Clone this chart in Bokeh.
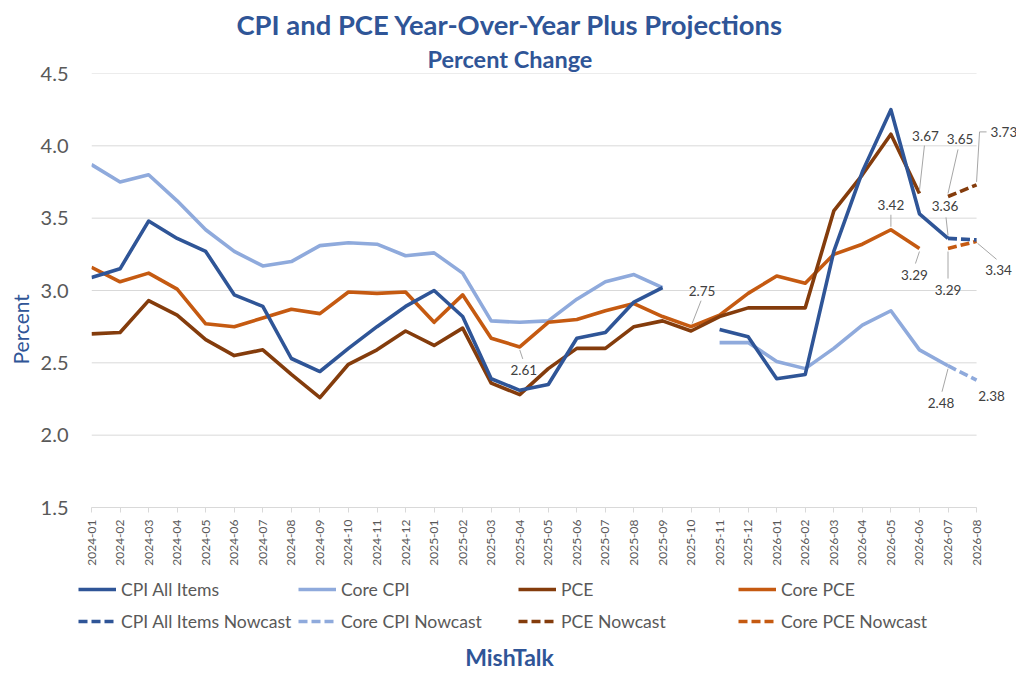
import math
from bokeh.plotting import figure
from bokeh.models import (Range1d, FixedTicker, Legend, LegendItem, Title,
                          NumeralTickFormatter, ColumnDataSource)
from bokeh.embed import file_html
from bokeh.resources import INLINE
from bokeh.core.properties import value

nan = float("nan")

months = ["2024-01", "2024-02", "2024-03", "2024-04", "2024-05", "2024-06",
          "2024-07", "2024-08", "2024-09", "2024-10", "2024-11", "2024-12",
          "2025-01", "2025-02", "2025-03", "2025-04", "2025-05", "2025-06",
          "2025-07", "2025-08", "2025-09", "2025-10", "2025-11", "2025-12",
          "2026-01", "2026-02", "2026-03", "2026-04", "2026-05", "2026-06",
          "2026-07", "2026-08"]

cpi_all = [3.09, 3.15, 3.48, 3.36, 3.27, 2.97, 2.89, 2.53, 2.44, 2.60, 2.75, 2.89,
           3.00, 2.82, 2.39, 2.31, 2.35, 2.67, 2.71, 2.92, 3.02, nan, 2.73, 2.68,
           2.39, 2.42, 3.27, 3.82, 4.25, 3.53, 3.36, nan]
core_cpi = [3.87, 3.75, 3.80, 3.62, 3.42, 3.27, 3.17, 3.20, 3.31, 3.33, 3.32, 3.24,
            3.26, 3.12, 2.79, 2.78, 2.79, 2.94, 3.06, 3.11, 3.02, nan, 2.64, 2.64,
            2.51, 2.46, 2.60, 2.76, 2.86, 2.59, 2.48, nan]
pce = [2.70, 2.71, 2.93, 2.83, 2.66, 2.55, 2.59, 2.42, 2.26, 2.49, 2.59, 2.72,
       2.62, 2.74, 2.36, 2.28, 2.46, 2.60, 2.60, 2.75, 2.79, 2.72, 2.82, 2.88,
       2.88, 2.88, 3.55, 3.80, 4.08, 3.67, nan, nan]
core_pce = [3.16, 3.06, 3.12, 3.01, 2.77, 2.75, 2.81, 2.87, 2.84, 2.99, 2.98, 2.99,
            2.78, 2.97, 2.67, 2.61, 2.78, 2.80, 2.86, 2.91, 2.82, 2.75, 2.83, 2.98,
            3.10, 3.05, 3.25, 3.32, 3.42, 3.29, nan, nan]

cpi_all_now = [nan] * 30 + [3.36, 3.35]
core_cpi_now = [nan] * 30 + [2.48, 2.38]
pce_now = [nan] * 30 + [3.65, 3.73]
core_pce_now = [nan] * 30 + [3.29, 3.34]

yticks = [1.5, 2.0, 2.5, 3.0, 3.5, 4.0, 4.5]

# styling
C_CPI = "#2F5597"
C_CCPI = "#8FAADC"
C_PCE = "#843C0C"
C_CPCE = "#C55A11"
C_TITLE = "#2F5597"
C_TXT = "#595959"
C_GRID = "#D9D9D9"
FONT = "Lato"

W = 1016
BL, BT, BB = 91, 73, 67
FW, FH = W - BL, 434
PX_X = 28.55
X_END = FW / PX_X
PX_Y = FH / 3.0

n = len(months)
xs = list(range(n))

p = figure(frame_width=FW, frame_height=FH, x_range=Range1d(0, X_END),
           y_range=Range1d(1.5, 4.5), output_backend="svg", toolbar_location=None,
           min_border_left=BL, min_border_right=0, min_border_top=BT,
           min_border_bottom=BB, title="CPI and PCE Year-Over-Year Plus Projections")
p.outline_line_color = None
p.grid.visible = False

p.title.text_font = FONT
p.title.text_font_size = "27.4px"
p.title.text_font_style = "bold"
p.title.text_color = C_TITLE
p.title.align = "left"
p.title.offset = 145
p.title.standoff = 3

sub = Title(text="Percent Change", text_font=FONT, text_font_size="23.5px",
            text_font_style="bold", text_color=C_TITLE, align="left", offset=336,
            standoff=1)
p.add_layout(sub, "above")

# gridlines
p.segment(x0=[0] * len(yticks), x1=[n - 1] * len(yticks), y0=yticks, y1=yticks,
          line_color=C_GRID, line_width=1)

# axes
p.xaxis.ticker = FixedTicker(ticks=xs)
p.xaxis.major_label_overrides = {i: m for i, m in enumerate(months)}
p.xaxis.major_label_orientation = math.pi / 2
p.xaxis.bounds = (0, n - 1)
p.xaxis.axis_line_color = C_GRID
p.xaxis.major_tick_line_color = C_GRID
p.xaxis.major_tick_out = 5
p.xaxis.major_tick_in = 0
p.xaxis.minor_tick_line_color = None
p.xaxis.major_label_standoff = 7
p.xaxis.major_label_text_font = FONT
p.xaxis.major_label_text_font_size = "12px"
p.xaxis.major_label_text_color = C_TXT

p.yaxis.ticker = FixedTicker(ticks=yticks)
p.yaxis.formatter = NumeralTickFormatter(format="0.0")
p.yaxis.axis_line_color = None
p.yaxis.major_tick_line_color = None
p.yaxis.minor_tick_line_color = None
p.yaxis.major_tick_out = 0
p.yaxis.major_tick_in = 0
p.yaxis.major_label_standoff = 23
p.yaxis.major_label_text_font = FONT
p.yaxis.major_label_text_font_size = "20px"
p.yaxis.major_label_text_color = C_TXT

ylab = Title(text="Percent", text_font=FONT, text_font_size="21px",
             text_font_style="normal", text_color=C_TITLE, align="left",
             offset=143, standoff=10)
p.add_layout(ylab, "left")

src = ColumnDataSource(dict(x=xs, cpi=cpi_all, ccpi=core_cpi, pce=pce, cpce=core_pce,
                            cpi_n=cpi_all_now, ccpi_n=core_cpi_now, pce_n=pce_now,
                            cpce_n=core_pce_now))
LW = 3.6
DASH = "9 4"
p.line("x", "ccpi", source=src, line_color=C_CCPI, line_width=LW, line_join="round")
p.line("x", "cpce", source=src, line_color=C_CPCE, line_width=LW, line_join="round")
p.line("x", "pce", source=src, line_color=C_PCE, line_width=LW, line_join="round")
p.line("x", "cpi", source=src, line_color=C_CPI, line_width=LW, line_join="round")
p.line("x", "ccpi_n", source=src, line_color=C_CCPI, line_width=LW, line_dash=DASH)
p.line("x", "cpce_n", source=src, line_color=C_CPCE, line_width=LW, line_dash=DASH)
p.line("x", "pce_n", source=src, line_color=C_PCE, line_width=LW, line_dash=DASH)
p.line("x", "cpi_n", source=src, line_color=C_CPI, line_width=LW, line_dash=DASH)

# data labels: (series, index, text dx, text dy, align, leader path in px offsets)
series = {"cpi": cpi_all, "ccpi": core_cpi, "pce": pce, "cpce": core_pce,
          "cpi_n": cpi_all_now, "ccpi_n": core_cpi_now, "pce_n": pce_now,
          "cpce_n": core_pce_now}
ann = [
    ("cpce", 15, 4, 23, "center", [(0, 3), (3, 12)]),
    ("cpce", 21, 11, -36, "center", [(1, -3), (10, -26)]),
    ("cpce", 28, 0, -25, "center", [(0, -3), (0, -15)]),
    ("cpce", 29, -5, 26, "center", [(0, 3), (-4, 15)]),
    ("pce", 29, 6, -58, "center", [(0, -3), (5, -48)]),
    ("pce_n", 30, 12, -57, "center", [(0, -3), (10, -47)]),
    ("pce_n", 31, 14, -53, "left", [(0, -3), (3, -53), (10, -53)]),
    ("cpi", 30, -3, -32, "center", [(0, -3), (-2, -21)]),
    ("cpce_n", 30, 0, 41, "center", [(0, 3), (0, 30)]),
    ("cpce_n", 31, 22, 29, "center", [(1, 2), (20, 18)]),
    ("ccpi_n", 30, -7, 37, "center", [(0, 3), (-6, 26)]),
    ("ccpi_n", 31, 15, 16, "center", []),
]
for key, i, dx, dy, align, path in ann:
    v = series[key][i]
    p.text(x=[i], y=[v], text=[f"{v:.2f}"], x_offset=dx, y_offset=dy,
           text_align=align, text_baseline="middle", text_font=value(FONT),
           text_font_size="13.5px", text_color="#404040")
    for (a0, b0), (a1, b1) in zip(path[:-1], path[1:]):
        p.segment(x0=[i + a0 / PX_X], y0=[v - b0 / PX_Y], x1=[i + a1 / PX_X],
                  y1=[v - b1 / PX_Y], line_color="#A6A6A6", line_width=1)

# ---- legend + footer panel (a second root, stacked below) ----
H2 = 108
q = figure(width=W, height=H2, x_range=Range1d(0, W), y_range=Range1d(0, H2),
           output_backend="svg", toolbar_location=None, min_border=0,
           x_axis_type=None, y_axis_type=None)
q.grid.visible = False
q.outline_line_color = None

leg_names = ["CPI All Items", "Core CPI", "PCE", "Core PCE"]
leg_colors = [C_CPI, C_CCPI, C_PCE, C_CPCE]


def mk_legend(items, loc):
    return Legend(items=items, orientation="horizontal", location=loc,
                  label_text_font=FONT, label_text_font_size="17.6px",
                  label_text_color=C_TXT, glyph_width=38, glyph_height=30,
                  label_height=30, label_width=177, label_standoff=5, spacing=0,
                  padding=0, margin=0, border_line_color=None,
                  background_fill_alpha=0)


row1, row2 = [], []
for name, col in zip(leg_names, leg_colors):
    r1 = q.line(x=[0, 1], y=[nan, nan], line_color=col, line_width=LW)
    r2 = q.line(x=[0, 1], y=[nan, nan], line_color=col, line_width=LW, line_dash=DASH)
    row1.append(LegendItem(label=name, renderers=[r1]))
    row2.append(LegendItem(label=name + " Nowcast", renderers=[r2]))

q.add_layout(mk_legend(row1, (78, 78)))
q.add_layout(mk_legend(row2, (78, 46)))

q.text(x=[509], y=[26], text=["MishTalk"], text_align="center",
       text_baseline="middle", text_font=value(FONT), text_font_size="23px",
       text_font_style="bold", text_color=C_TITLE)

open("out.html", "w").write(file_html([p, q], INLINE))
